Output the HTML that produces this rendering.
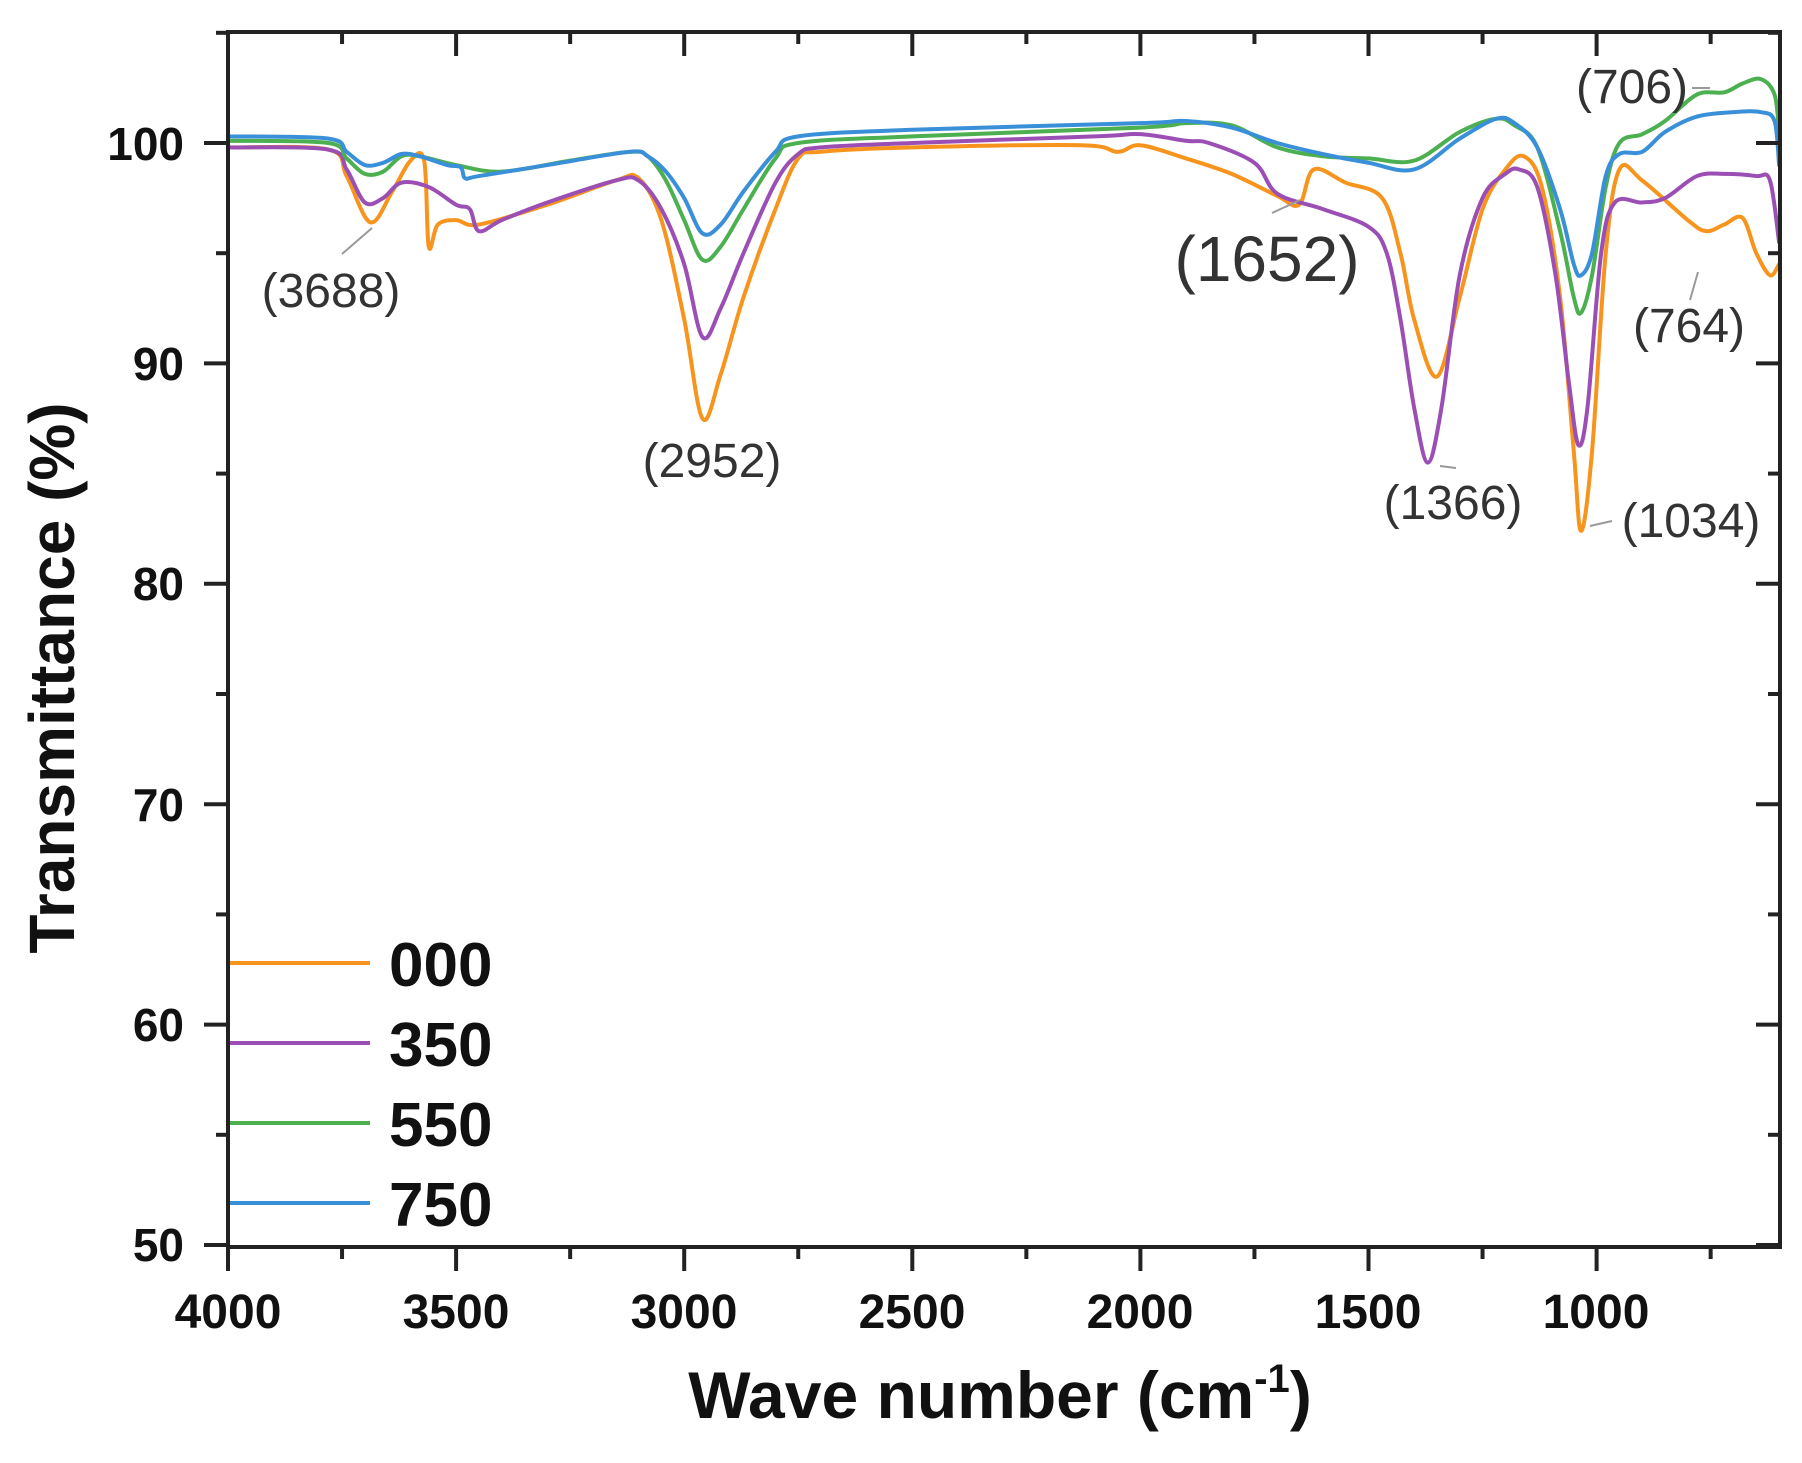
<!DOCTYPE html>
<html><head><meta charset="utf-8"><style>
html,body{margin:0;padding:0;background:#fff;}
svg{display:block;}
text{font-family:"Liberation Sans",Arial,sans-serif;}
</style></head><body>
<svg id="s" width="1802" height="1463" viewBox="0 0 1802 1463" xmlns="http://www.w3.org/2000/svg">
<g id="curves" fill="none" stroke-width="4" stroke-linejoin="round" stroke-linecap="round"></g>
<g id="axes" stroke="#222" stroke-width="4" fill="none"></g>
<g font-weight="bold" font-size="46" fill="#111" text-anchor="end">
<text x="184" y="160">100</text>
<text x="184" y="380">90</text>
<text x="184" y="600">80</text>
<text x="184" y="821">70</text>
<text x="184" y="1041">60</text>
<text x="184" y="1261">50</text>
</g>
<g font-weight="bold" font-size="48" fill="#111" text-anchor="middle">
<text x="228" y="1328">4000</text>
<text x="456" y="1328">3500</text>
<text x="684" y="1328">3000</text>
<text x="912" y="1328">2500</text>
<text x="1140" y="1328">2000</text>
<text x="1368" y="1328">1500</text>
<text x="1596" y="1328">1000</text>
</g>
<text x="1000" y="1418" font-weight="bold" font-size="66" text-anchor="middle" fill="#111">Wave number (cm<tspan font-size="40" dy="-26">-1</tspan><tspan dy="26">)</tspan></text>
<text transform="translate(74,678) rotate(-90)" font-weight="bold" font-size="64" text-anchor="middle" fill="#111">Transmittance (%)</text>
<g stroke-width="4">
<line x1="230" y1="963" x2="370" y2="963" stroke="#f7941d"/>
<line x1="230" y1="1043" x2="370" y2="1043" stroke="#9b4fb5"/>
<line x1="230" y1="1123" x2="370" y2="1123" stroke="#4caf50"/>
<line x1="230" y1="1203" x2="370" y2="1203" stroke="#3a8fd9"/>
</g>
<g font-weight="bold" font-size="62" fill="#111">
<text x="389" y="986">000</text>
<text x="389" y="1066">350</text>
<text x="389" y="1146">550</text>
<text x="389" y="1226">750</text>
</g>
<g fill="#333" font-size="48" text-anchor="middle">
<text x="331" y="307">(3688)</text>
<text x="712" y="477">(2952)</text>
<text x="1267" y="281" font-size="64">(1652)</text>
<text x="1453" y="519">(1366)</text>
<text x="1691" y="537">(1034)</text>
<text x="1689" y="342">(764)</text>
<text x="1632" y="103">(706)</text>
</g>
<g stroke="#999" stroke-width="2">
<line x1="342" y1="254" x2="372" y2="228"/>
<line x1="1272" y1="213" x2="1300" y2="200"/>
<line x1="1440" y1="466" x2="1456" y2="468"/>
<line x1="1612" y1="521" x2="1590" y2="526"/>
<line x1="1690" y1="300" x2="1698" y2="272"/>
<line x1="1692" y1="88" x2="1710" y2="88"/>
</g>
</svg>
<script>
var X=function(v){return 228+(4000-v)*0.4562;};
var Y=function(t){return 1245-(t-50)*22.04;};
var NS="http://www.w3.org/2000/svg";
var data={
"#f7941d":[4000,99.8,3780,99.7,3740,98.5,3688,96.4,3640,97.8,3600,99.2,3570,99.2,3560,95.3,3540,96.3,3500,96.5,3450,96.3,3300,97.2,3150,98.3,3100,98.4,3050,96.5,3000,92,2960,87.5,2920,89.5,2870,93,2800,97,2750,99.3,2700,99.6,2500,99.8,2130,99.9,2050,99.6,2000,99.9,1900,99.3,1800,98.6,1700,97.6,1652,97.2,1620,98.8,1550,98.2,1470,97.5,1430,95,1400,92,1350,89.4,1300,93,1250,97,1200,98.8,1160,99.4,1120,98,1080,93,1050,86,1034,82.4,1010,86,980,95,950,98.8,900,98.3,800,96.5,760,96,720,96.3,680,96.6,650,95,620,94,600,94.5],
"#9b4fb5":[4000,99.8,3780,99.7,3740,98.8,3700,97.3,3660,97.5,3620,98.2,3560,98,3500,97.2,3470,97,3450,96,3400,96.5,3300,97.3,3150,98.3,3100,98.3,3050,97,3000,94.5,2960,91.2,2920,92.5,2870,95,2800,98.2,2750,99.5,2700,99.8,2500,100,2100,100.3,2000,100.4,1900,100.1,1850,100,1750,99.1,1700,97.7,1600,97,1500,96.2,1460,95,1430,92,1400,88,1370,85.5,1340,88,1300,94,1250,97.5,1200,98.6,1170,98.8,1130,98,1090,94,1060,89,1040,86.3,1020,88,990,95,960,97.3,900,97.3,850,97.5,780,98.5,720,98.6,650,98.5,620,98.3,600,95.5],
"#4caf50":[4000,100.1,3780,100,3740,99.3,3700,98.6,3660,98.7,3620,99.4,3580,99.4,3500,99,3400,98.7,3250,99.2,3120,99.6,3080,99.4,3040,98.3,3000,96.5,2960,94.7,2920,95.3,2870,97,2800,99.3,2750,100,2500,100.3,2000,100.7,1900,100.9,1800,100.8,1700,99.8,1600,99.4,1500,99.3,1400,99.2,1300,100.5,1220,101.1,1180,100.8,1130,99.8,1080,96,1050,93,1034,92.3,1010,94,980,98,950,100,900,100.4,850,101,780,102.2,720,102.3,680,102.7,640,102.9,610,102.2,600,100.5],
"#3a8fd9":[4000,100.3,3780,100.2,3740,99.6,3700,99,3660,99.1,3620,99.5,3580,99.4,3520,99,3490,98.9,3480,98.4,3450,98.5,3300,99,3120,99.6,3080,99.4,3040,98.7,3000,97.5,2960,95.9,2920,96.3,2870,97.8,2800,99.6,2750,100.3,2500,100.6,2000,100.9,1900,101,1800,100.7,1700,100,1600,99.5,1500,99.1,1400,98.8,1300,100.2,1220,101.1,1180,100.9,1130,99.8,1080,97,1050,94.5,1034,94,1010,95,980,98.5,950,99.5,900,99.6,850,100.5,780,101.2,700,101.4,640,101.4,610,101,600,99]};
var g=document.getElementById("curves");
for(var c in data){var a=data[c],p=[];for(var i=0;i<a.length;i+=2)p.push([X(a[i]),Y(a[i+1])]);
var d="M"+p[0][0]+","+p[0][1];
for(var i=0;i<p.length-1;i++){var p0=p[Math.max(0,i-1)],p1=p[i],p2=p[i+1],p3=p[Math.min(p.length-1,i+2)];
d+=" C"+(p1[0]+(p2[0]-p0[0])/6)+","+(p1[1]+(p2[1]-p0[1])/6)+" "+(p2[0]-(p3[0]-p1[0])/6)+","+(p2[1]-(p3[1]-p1[1])/6)+" "+p2[0]+","+p2[1];}
var e=document.createElementNS(NS,"path");e.setAttribute("d",d);e.setAttribute("stroke",c);g.appendChild(e);}
var ax=document.getElementById("axes");
function L(x1,y1,x2,y2){var e=document.createElementNS(NS,"line");e.setAttribute("x1",x1);e.setAttribute("y1",y1);e.setAttribute("x2",x2);e.setAttribute("y2",y2);ax.appendChild(e);}
var l=228,r=1780,t=32,b=1247;
var e=document.createElementNS(NS,"rect");e.setAttribute("x",l);e.setAttribute("y",t);e.setAttribute("width",r-l);e.setAttribute("height",b-t);ax.appendChild(e);
for(var v=4000;v>=600;v-=250){var x=X(v),maj=(v%500==0);L(x,b,x,b+(maj?24:12));L(x,t,x,t+(maj?24:12));}
for(var v=50;v<=105;v+=5){var y=Y(v),maj=(v%10==0);L(l,y,l-(maj?24:12),y);L(r,y,r-(maj?24:12),y);}
</script>
</body></html>
